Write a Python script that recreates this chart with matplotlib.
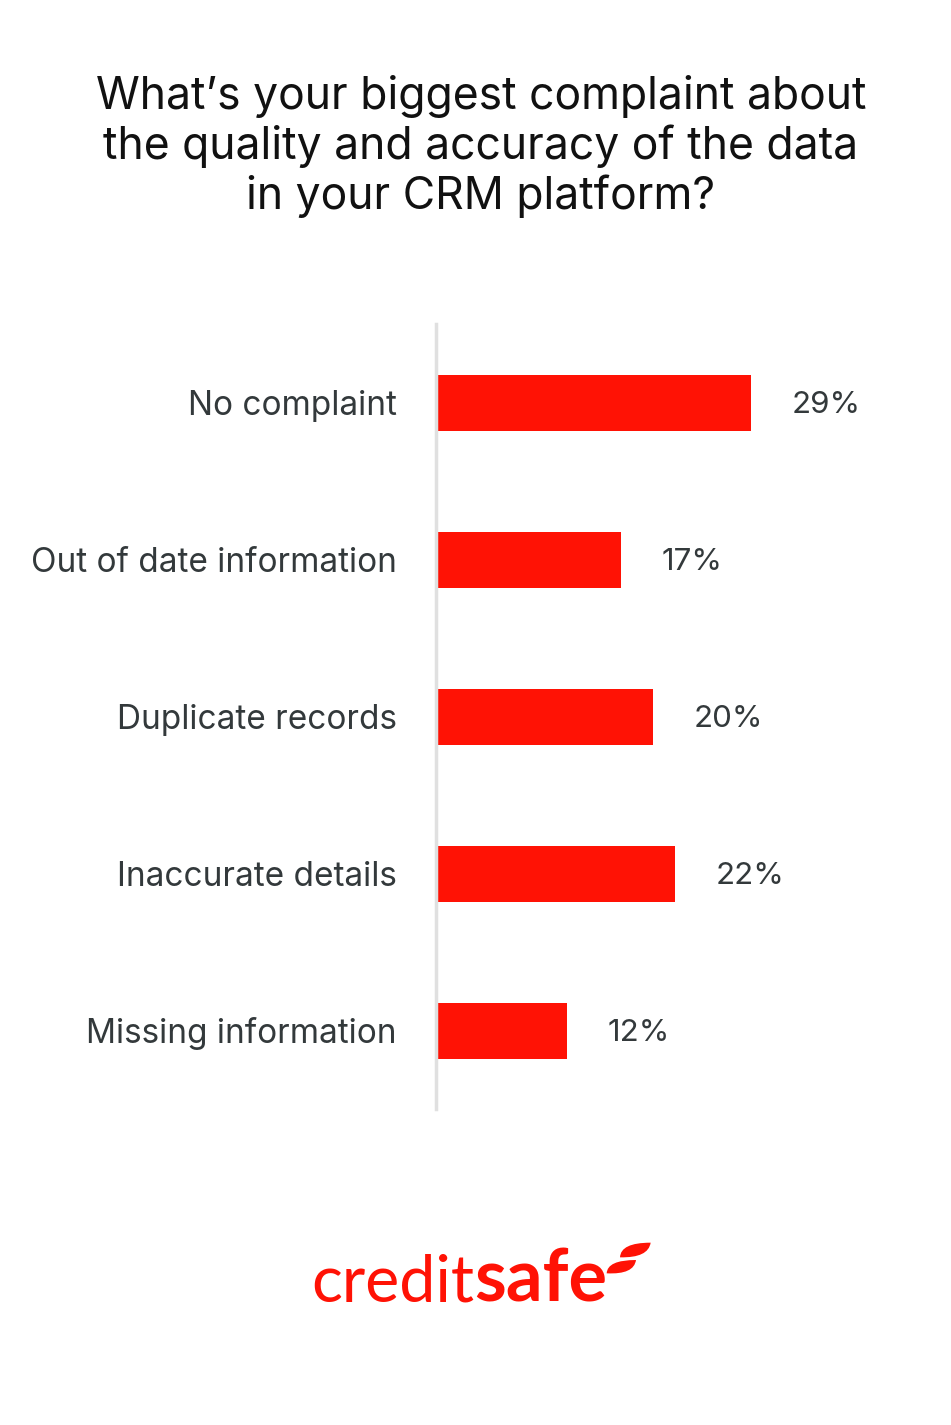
import matplotlib
matplotlib.use('Agg')
import matplotlib.pyplot as plt
from matplotlib.patches import PathPatch
from matplotlib.path import Path

W, H = 951, 1425
categories = ['No complaint', 'Out of date information', 'Duplicate records', 'Inaccurate details', 'Missing information']
values = [29, 17, 20, 22, 12]
title_lines = ['What’s your biggest complaint about', 'the quality and accuracy of the data', 'in your CRM platform?']
RED = '#ff1205'
INK = '#33393b'

plt.rcParams['font.family'] = ['Inter', 'DejaVu Sans']
fig = plt.figure(figsize=(W/100, H/100), dpi=100, facecolor='white')

x0, x1 = 435.5, 750.0
ax = fig.add_axes([x0/W, 1-1109/H, (900-x0)/W, (1109-324)/H])
xmax = 29*(900-x0)/(x1-x0)
ax.set_xlim(0, xmax)
ax.set_ylim(4.5, -0.5)
ax.barh(range(5), values, height=56/157, color=RED, left=0.1)
ax.spines[['top', 'right', 'bottom']].set_visible(False)
ax.spines['left'].set_color('#e0e0e0')
ax.spines['left'].set_linewidth(2.5)
ax.set_xticks([])
ax.set_yticks(range(5))
ax.set_yticklabels(categories, fontsize=24, color=INK)
ax.tick_params(axis='y', length=0, pad=28)
for i, v in enumerate(values):
    ax.annotate(f'{v}%', (v, i), xytext=(30, -2), textcoords='offset points',
                va='center', ha='left', fontsize=22.5, color=INK)

for i, t in enumerate(title_lines):
    fig.text(481/W, 1-(96+50*i)/H, t, ha='center', va='center', fontsize=32, color='#111111')

# logo wordmark
fig.text(311/W, 1-1302/H, 'credit', ha='left', va='baseline', fontsize=46.5, color=RED, family=['Lato', 'DejaVu Sans'])
fig.text(474/W, 1-1302/H, 'safe', ha='left', va='baseline', fontsize=52, color=RED, fontweight='bold', family=['Lato', 'DejaVu Sans'])

# logo leaves
def z(px, py):
    return ((300+px/3)/W, 1-(1230+py/3)/H)
leaves = [
    [(960, 82), (962, 38), (1052, 38), (1045, 84), (960, 82)],
    [(920, 130), (922, 90), (1008, 90), (1002, 134), (920, 130)],
]
for pts in leaves:
    verts = [z(*p) for p in pts] + [z(*pts[0])]
    codes = [Path.MOVETO, Path.CURVE3, Path.CURVE3, Path.CURVE3, Path.CURVE3, Path.CLOSEPOLY]
    fig.add_artist(PathPatch(Path(verts, codes), facecolor=RED, edgecolor='none', transform=fig.transFigure))

fig.savefig('out.png', dpi=100)
